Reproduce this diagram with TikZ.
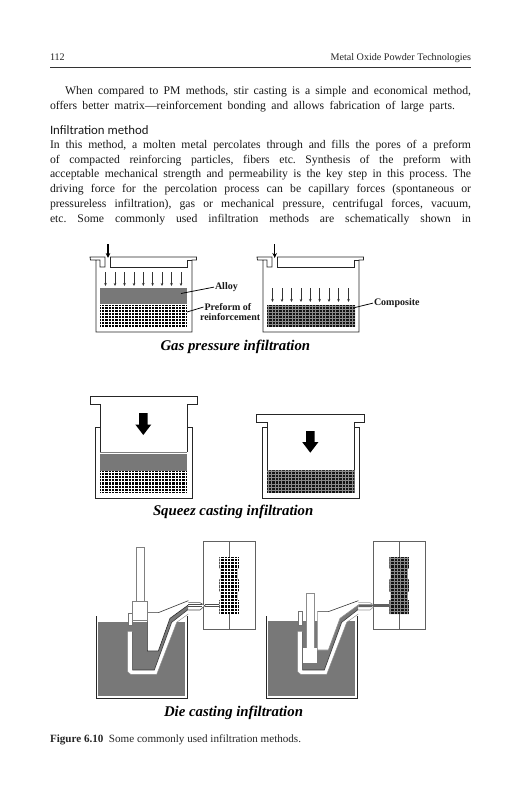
\documentclass[tikz,border=0pt]{standalone}
\usepackage{fontspec}
\setmainfont{Liberation Serif}
\newfontfamily\headfont{Carlito}
\usetikzlibrary{arrows.meta}
\definecolor{alloy}{gray}{0.47}
\definecolor{mold}{gray}{0.38}
\tikzset{
  txt/.style={anchor=base west,inner sep=0pt,outer sep=0pt,font=\frenchspacing\fontsize{11.7}{14}\selectfont,text=black!90},
  small/.style={anchor=base west,inner sep=0pt,outer sep=0pt,font=\fontsize{10.1}{12}\selectfont,text=black!85},
  label/.style={anchor=base west,inner sep=0pt,outer sep=1pt,font=\bfseries\fontsize{10}{11}\selectfont,text=black!90},
  capt/.style={anchor=base west,inner sep=0pt,outer sep=0pt,font=\bfseries\itshape\fontsize{14.8}{18}\selectfont},
  wall/.style={line width=0.75pt,draw=black!85},
  lead/.style={line width=0.75pt,draw=black},
  thinarrow/.style={line width=0.55pt,draw=black!80,-{Stealth[length=3pt,width=2.6pt]}},
  inarrow/.style={line width=1.3pt,draw=black,-{Stealth[length=5pt,width=4.6pt]}},
  bigarrow/.style={fill=black,draw=none},
}
\newcommand\meshlines[7]{%
  \fill[#5] (#1,#2) rectangle (#3,#4);
  \foreach \mx in {0,...,30}{\draw[#6,line width=#7] ({#1+1.6+3.35*\mx},#2) -- ({#1+1.6+3.35*\mx},#4);}
  \foreach \my in {0,...,7}{\draw[#6,line width=#7] (#1,{#2+1.4+3.1*\my}) -- (#3,{#2+1.4+3.1*\my});}
}
\newcommand\meshblock[7]{%
  \begin{scope}
    \clip (#1,#2) rectangle (#3,#4);
    \meshlines{#1}{#2}{#3}{#4}{#5}{#6}{#7}
  \end{scope}}
\newcommand\gasvessel{%
  \draw[wall] (110,257) -- (196.5,257) -- (196.5,260) -- (192,260) -- (192,332) -- (96,332) -- (96,260) -- (90.5,260) -- (90,257) -- (105,257) -- (105,267) -- (100,267) -- (100,260) -- (96,260);
  \draw[wall] (110,257) -- (110,267) -- (187,267) -- (187,260) -- (192,260);
}
\newcommand\downarrowfat[3]{%
  \fill[bigarrow] (#1-4.2,#2) -- (#1+4.2,#2) -- (#1+4.2,#3-10.5) -- (#1+8,#3-10.5) -- (#1,#3) -- (#1-8,#3-10.5) -- (#1-4.2,#3-10.5) -- cycle;
}
\newcommand\diebase{%
  \draw[line width=0.7pt,draw=mold] (250,-145) rectangle (407,118);
  \draw[line width=0.7pt,draw=mold] (329,-145) -- (329,118);
  \fill[alloy] (-66,\graytop) rectangle (195,318);
  \draw[wall] (-70,78) -- (-70,324) -- (202,324) -- (202,78);
  \fill[alloy] (115,183) -- (150,85) -- (205,45) -- (205,58) -- (155,97) -- (105,240) -- cycle;
  \fill[white] (23,125) -- (23,245) -- (32,253) -- (110,253) -- (170,97) -- (205,72) -- (205,58) -- (155,97) -- (103,240) -- (38,240) -- (38,125) -- cycle;
  \draw[line width=0.6pt,draw=black!80] (38,125) -- (38,240) -- (103,240) -- (155,97) -- (205,58);
  \draw[line width=0.4pt,draw=black!45] (23,125) -- (23,245) -- (32,253) -- (110,253) -- (170,97) -- (205,72);
  \fill[white] (82,\chamtop) -- (115,\chamtop) -- (205,32) -- (205,45) -- (150,85) -- (115,\chambot) -- (82,\chambot) -- cycle;
  \draw[line width=0.6pt,draw=black!80] (82,\chamtop) -- (115,\chamtop) -- (205,32);
  \draw[line width=0.6pt,draw=\chamcol] (82,\chamtop) -- (82,\chambot) -- (115,\chambot) -- (150,85) -- (205,45);
  \draw[line width=0.5pt,draw=black!55,fill=white] (25,\rodtop) rectangle (36,105);
}
\newcommand\diemesh[2]{%
  \begin{scope}
    \clip (298,-100) -- (357,-100) -- (357,-65) -- (352,-65) -- (352,-32) -- (357,-32) -- (357,5) -- (352,5) -- (352,30) -- (357,30) -- (357,72) -- (298,72) -- (298,30) -- (303,30) -- (303,5) -- (298,5) -- (298,-32) -- (303,-32) -- (303,-65) -- (298,-65) -- cycle;
    \fill[#1] (298,-100) rectangle (357,72);
    \foreach \mx in {0,...,5}{\draw[#2,line width=0.55pt] ({302+10*\mx},-100) -- ({302+10*\mx},72);}
    \foreach \my in {0,...,17}{\draw[#2,line width=0.55pt] (298,{-96+10*\my}) -- (357,{-96+10*\my});}
  \end{scope}}
\begin{document}
\begin{tikzpicture}[x=1pt,y=-1pt]
\useasboundingbox (0,0) rectangle (531,800);
\fill[white] (0,0) rectangle (531,800);

\node[small] (pageno) at (50,60.5) {112};
\node[small,anchor=base east] (running) at (471,60.5) {Metal Oxide Powder Technologies};
\coordinate (ruleL) at (50,67.4);
\coordinate (ruleR) at (471,67.4);
\draw[line width=0.8pt,draw=black!80] (ruleL) -- (ruleR);
\node[txt] (p1a) at (65,94.5) {\makebox[406pt][s]{When compared to PM methods, stir casting is a simple and economical method,}};
\node[txt] (p1b) at (50,109) {\makebox[405pt][s]{offers better matrix---reinforcement bonding and allows fabrication of large parts.}};
\node[txt,font=\headfont\fontsize{12.8}{16}\selectfont] (head) at (50,134.5) {Infiltration method};
\node[txt] (p2a) at (50,148) {\makebox[421pt][s]{In this method, a molten metal percolates through and fills the pores of a preform}};
\node[txt] (p2b) at (50,163) {\makebox[421pt][s]{of compacted reinforcing particles, fibers etc. Synthesis of the preform with}};
\node[txt] (p2c) at (50,177.7) {\makebox[421pt][s]{acceptable mechanical strength and permeability is the key step in this process. The}};
\node[txt] (p2d) at (50,192.5) {\makebox[421pt][s]{driving force for the percolation process can be capillary forces (spontaneous or}};
\node[txt] (p2e) at (50,207) {\makebox[421pt][s]{pressureless infiltration), gas or mechanical pressure, centrifugal forces, vacuum,}};
\node[txt] (p2f) at (50,222) {\makebox[421pt][s]{etc. Some commonly used infiltration methods are schematically shown in}};

% gas pressure, left
\fill[alloy] (99.5,288) rectangle (187,304);
\meshblock{99.5}{304.5}{187}{326.5}{black}{white}{0.55pt}
\gasvessel
\coordinate (inA0) at (108,244); \coordinate (inA1) at (108,258);
\draw[inarrow] (inA0) -- (inA1);
\foreach \ax in {105.5,115,124.5,134,143.3,152.6,162,171.5,181}{
  \draw[thinarrow] (\ax,272) -- (\ax,286);}
% gas pressure, right
\meshblock{267}{304.5}{355}{326.5}{black!92}{black!45}{0.6pt}
\begin{scope}[shift={(167,0)}]\gasvessel\end{scope}
\coordinate (inB0) at (274.7,244); \coordinate (inB1) at (274.7,258);
\draw[inarrow] (inB0) -- (inB1);
\foreach \ax in {272.5,282,291.5,301,310.3,319.6,329,338.5,348.5}{
  \draw[thinarrow] (\ax,288) -- (\ax,302);}
\node[label] (alloy) at (214,289.5) {Alloy};
\node[label] (preform) at (203.5,310.5) {Preform of};
\node[label] (reinf) at (199,320.5) {reinforcement};
\node[label] (composite) at (373,305.5) {Composite};
\coordinate (alloyEnd) at (181,293.5);
\coordinate (preformEnd) at (187,312);
\coordinate (compEnd) at (355,307.5);
\draw[lead] (alloyEnd) -- (alloy.west);
\draw[lead] (preformEnd) -- (preform.west);
\draw[lead] (compEnd) -- (composite.west);
\node[capt] (cap1) at (160.5,350) {Gas pressure infiltration};

% squeeze, left
\fill[alloy] (100,453.5) rectangle (187,471);
\meshblock{99.5}{471}{187}{492.5}{black}{white}{0.55pt}
\draw[wall] (100,427) -- (95.5,427) -- (95.5,498) -- (192,498) -- (192,427) -- (187,427);
\draw[wall,fill=white] (100,452) -- (100,404) -- (90,404) -- (90,396) -- (197,396) -- (197,404) -- (187,404) -- (187,452);
\draw[line width=0.5pt,draw=black!50] (100,452) -- (187,452);
\downarrowfat{143.3}{413}{435}
% squeeze, right
\meshblock{266.5}{470}{354.7}{492.5}{black!92}{black!45}{0.6pt}
\draw[wall] (267,427) -- (262,427) -- (262,498) -- (359,498) -- (359,427) -- (354,427);
\draw[wall,fill=white] (267,470) -- (267,422.3) -- (256.5,422.3) -- (256.5,414) -- (364,414) -- (364,422.3) -- (354,422.3) -- (354,470);
\downarrowfat{310.3}{431}{452.7}
\node[capt] (cap2) at (153,515) {Squeez casting infiltration};

% die casting, left
\begin{scope}[shift={(120,590)},x=0.3333pt,y=-0.3333pt]
  \def\graytop{97}\def\chamtop{68}\def\chambot{183}\def\chamcol{black!85}\def\rodtop{70}
  \diebase
  \draw[line width=0.5pt,draw=black!50,fill=white] (50,-129) rectangle (73,35);
  \draw[line width=0.5pt,draw=black!50,fill=white] (38,35) rectangle (82,92);
  \fill[white] (38,92) rectangle (82,97);
  \draw[line width=0.6pt,draw=black!70,fill=white] (205,38) -- (240,38) -- (255,47) -- (240,60) -- (205,60);
  \draw[line width=0.5pt,draw=black!70] (205,44) -- (245,44);
  \draw[line width=0.5pt,draw=black!70] (205,50) -- (245,50);
  \diemesh{black}{white}
  \draw[line width=0.5pt,draw=black!70] (255,44) -- (298,44);
  \draw[line width=0.5pt,draw=black!70] (255,48) -- (298,48);
\end{scope}
% die casting, right
\begin{scope}[shift={(290,590)},x=0.3333pt,y=-0.3333pt]
  \def\graytop{93}\def\chamtop{65}\def\chambot{180}\def\chamcol{black!45}\def\rodtop{63}
  \diebase
  \draw[line width=0.5pt,draw=black!45,fill=white] (50,10) rectangle (73,175);
  \fill[white] (40,175) rectangle (80,220);
  \fill[white] (51,170) rectangle (72,180);
  \draw[line width=0.6pt,draw=black!40,fill=white] (205,38) -- (240,38) -- (255,47) -- (240,60) -- (205,60);
  \fill[alloy!80!black] (205,43) -- (245,43) -- (250,47) -- (245,51) -- (205,51) -- cycle;
  \fill[alloy!80!black] (250,43) rectangle (298,51);
  \diemesh{black!92}{black!45}
\end{scope}
\node[capt] (cap3) at (164,716) {Die casting infiltration};

\node[small,font=\fontsize{11.1}{13}\selectfont] (figcap) at (50,742.5) {\textbf{Figure 6.10}\hspace{0.5em}Some commonly used infiltration methods.};
\end{tikzpicture}
\end{document}
